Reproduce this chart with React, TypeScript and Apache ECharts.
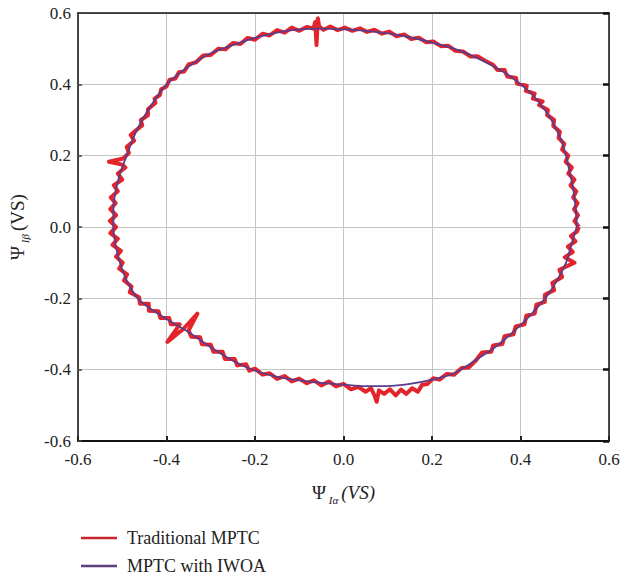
import React, { useEffect, useRef } from "react";
import * as echarts from "echarts";

const axisTicks = [-0.6, -0.4, -0.2, 0.0, 0.2, 0.4, 0.6];
const seriesNames = ["Traditional MPTC", "MPTC with IWOA"];

// MPTC with IWOA flux trajectory (purple)
const iwoaPoints: number[][] = [
  [0.527, 0.0], [0.525, 0.05], [0.52, 0.1], [0.512, 0.15], [0.503, 0.2], [0.49, 0.25],
  [0.47, 0.3], [0.445, 0.345], [0.415, 0.385], [0.38, 0.42], [0.34, 0.45], [0.3, 0.475],
  [0.25, 0.5], [0.2, 0.517], [0.15, 0.532], [0.1, 0.543], [0.05, 0.55], [0.0, 0.554],
  [-0.05, 0.556], [-0.1, 0.554], [-0.15, 0.545], [-0.2, 0.53], [-0.25, 0.51], [-0.3, 0.487],
  [-0.35, 0.45], [-0.4, 0.4], [-0.43, 0.35], [-0.455, 0.3], [-0.475, 0.25], [-0.49, 0.2],
  [-0.505, 0.15], [-0.515, 0.1], [-0.52, 0.05], [-0.52, 0.0], [-0.515, -0.05], [-0.505, -0.1],
  [-0.49, -0.15], [-0.465, -0.2], [-0.435, -0.23], [-0.4, -0.258], [-0.35, -0.295], [-0.3, -0.337],
  [-0.25, -0.375], [-0.2, -0.403], [-0.15, -0.42], [-0.1, -0.43], [-0.05, -0.437], [0.0, -0.442],
  [0.05, -0.446], [0.1, -0.446], [0.15, -0.44], [0.2, -0.428], [0.25, -0.41], [0.3, -0.372],
  [0.35, -0.33], [0.4, -0.275], [0.435, -0.23], [0.465, -0.185], [0.487, -0.14], [0.503, -0.1],
  [0.515, -0.05], [0.527, 0.0],
];

// Traditional MPTC flux trajectory (red, noisy)
const traditionalPoints: number[][] = [
  // right side
  [0.532, 0.0], [0.522, 0.017], [0.53, 0.033], [0.521, 0.05], [0.529, 0.067], [0.519, 0.083],
  [0.526, 0.1], [0.513, 0.117], [0.522, 0.133], [0.508, 0.15], [0.516, 0.167], [0.502, 0.183],
  [0.508, 0.2], [0.494, 0.217], [0.499, 0.233], [0.486, 0.25], [0.489, 0.267], [0.474, 0.283],
  [0.476, 0.3],
  // upper right
  [0.46, 0.314], [0.462, 0.328], [0.442, 0.342], [0.45, 0.352], [0.428, 0.36], [0.432, 0.374],
  [0.412, 0.382], [0.414, 0.396], [0.392, 0.402], [0.39, 0.418], [0.37, 0.422], [0.364, 0.44],
  [0.348, 0.44], [0.338, 0.455],
  // top
  [0.32, 0.466], [0.303, 0.479], [0.287, 0.478], [0.27, 0.492], [0.253, 0.494], [0.237, 0.508],
  [0.22, 0.507], [0.203, 0.52], [0.187, 0.518], [0.17, 0.531], [0.153, 0.527], [0.137, 0.54],
  [0.12, 0.535], [0.103, 0.548], [0.087, 0.542], [0.07, 0.553], [0.053, 0.547], [0.037, 0.557],
  [0.02, 0.55], [0.003, 0.559], [-0.013, 0.552], [-0.03, 0.562], [-0.045, 0.553], [-0.055, 0.562],
  [-0.058, 0.585], [-0.061, 0.51], [-0.064, 0.575], [-0.068, 0.556], [-0.083, 0.561], [-0.1, 0.55],
  [-0.117, 0.559], [-0.133, 0.545], [-0.15, 0.552], [-0.167, 0.537], [-0.183, 0.542], [-0.2, 0.525],
  [-0.217, 0.53], [-0.233, 0.513], [-0.25, 0.516], [-0.267, 0.498], [-0.283, 0.5], [-0.3, 0.482],
  [-0.317, 0.481], [-0.333, 0.462],
  // upper left
  [-0.35, 0.456], [-0.36, 0.436], [-0.372, 0.434], [-0.38, 0.416], [-0.393, 0.413], [-0.4, 0.394],
  [-0.412, 0.386], [-0.415, 0.37], [-0.427, 0.36], [-0.425, 0.348], [-0.442, 0.33], [-0.442, 0.313],
  [-0.458, 0.3], [-0.455, 0.285], [-0.47, 0.27],
  // left side
  [-0.481, 0.258], [-0.473, 0.242], [-0.49, 0.225], [-0.485, 0.208], [-0.498, 0.192],
  [-0.53, 0.183], [-0.5, 0.175], [-0.493, 0.167], [-0.51, 0.15], [-0.5, 0.133], [-0.519, 0.117],
  [-0.51, 0.1], [-0.526, 0.083], [-0.515, 0.067], [-0.527, 0.05], [-0.514, 0.033], [-0.528, 0.017],
  [-0.514, 0.0], [-0.527, -0.017], [-0.51, -0.033], [-0.522, -0.05], [-0.503, -0.067], [-0.514, -0.083],
  [-0.499, -0.1], [-0.507, -0.117], [-0.489, -0.133], [-0.496, -0.15], [-0.479, -0.167], [-0.483, -0.183],
  [-0.462, -0.197],
  // lower left
  [-0.46, -0.215], [-0.44, -0.215], [-0.44, -0.235], [-0.418, -0.236], [-0.414, -0.255], [-0.394, -0.255],
  [-0.39, -0.273], [-0.37, -0.273], [-0.398, -0.322], [-0.362, -0.286], [-0.33, -0.243], [-0.35, -0.29],
  [-0.344, -0.308], [-0.324, -0.309], [-0.32, -0.329], [-0.3, -0.33], [-0.294, -0.35], [-0.273, -0.35],
  [-0.268, -0.37], [-0.246, -0.37], [-0.24, -0.388], [-0.22, -0.385], [-0.213, -0.403],
  // bottom
  [-0.2, -0.397], [-0.183, -0.414], [-0.167, -0.41], [-0.15, -0.426], [-0.133, -0.418], [-0.117, -0.433],
  [-0.1, -0.425], [-0.083, -0.438], [-0.067, -0.43], [-0.05, -0.444], [-0.033, -0.433], [-0.017, -0.447],
  [0.0, -0.44], [0.017, -0.455], [0.033, -0.448], [0.05, -0.462], [0.062, -0.452], [0.07, -0.472],
  [0.075, -0.49], [0.08, -0.458], [0.092, -0.468], [0.105, -0.455], [0.118, -0.472], [0.13, -0.456],
  [0.142, -0.468], [0.155, -0.452], [0.168, -0.462], [0.178, -0.442], [0.19, -0.44], [0.203, -0.424],
  [0.217, -0.428], [0.233, -0.412], [0.25, -0.414], [0.267, -0.395], [0.283, -0.394], [0.3, -0.373],
  // lower right
  [0.313, -0.352], [0.334, -0.35], [0.338, -0.332], [0.359, -0.328], [0.364, -0.306], [0.384, -0.301],
  [0.389, -0.279], [0.409, -0.273], [0.413, -0.249], [0.432, -0.243], [0.436, -0.218], [0.455, -0.21],
  [0.455, -0.19], [0.476, -0.177], [0.472, -0.157], [0.494, -0.14], [0.488, -0.12], [0.522, -0.1],
  [0.5, -0.085], [0.518, -0.07], [0.507, -0.055], [0.524, -0.04], [0.514, -0.025], [0.528, -0.012],
  [0.532, 0.0],
];

const FONT = "'Liberation Serif', 'DejaVu Serif', serif";
const RED = "#e3242b";
const PURPLE = "#5b3d8c";

export default function App() {
  const ref = useRef<HTMLDivElement>(null);
  useEffect(() => {
    if (!ref.current) return;
    const chart = echarts.init(ref.current, undefined, { renderer: "svg" });
    const fmt = (v: number) => v.toFixed(1);
    const minV = axisTicks[0];
    const maxV = axisTicks[axisTicks.length - 1];
    const interval = 0.2;
    const labelStyle = { fontFamily: FONT, fontSize: 17, color: "#222" };
    chart.setOption({
      animation: false,
      backgroundColor: "#fff",
      grid: { left: 77, right: 14, top: 13, bottom: 139, containLabel: false },
      legend: {
        orient: "vertical",
        left: 76,
        top: 524,
        height: 56,
        icon: "rect",
        itemWidth: 36,
        itemHeight: 2.5,
        itemGap: 10,
        textStyle: { fontFamily: FONT, fontSize: 18, color: "#222", padding: [0, 0, 0, 5] },
        data: [
          { name: seriesNames[0], itemStyle: { color: "#c8262c" } },
          { name: seriesNames[1], itemStyle: { color: "#5c3f7c" } },
        ],
      },
      xAxis: [
        {
          type: "value",
          min: minV,
          max: maxV,
          interval,
          position: "bottom",
          axisLine: { show: true, onZero: false, lineStyle: { color: "#111", width: 2 } },
          axisTick: { show: true, inside: true, length: 5, lineStyle: { color: "#222", width: 2 } },
          axisLabel: { ...labelStyle, margin: 10, formatter: fmt },
          splitLine: { show: true, lineStyle: { color: "#c4c4c4", width: 1 } },
          name: "{psi|Ψ}{sub| Iα} {it|(VS)}",
          nameLocation: "middle",
          nameGap: 39,
          nameTextStyle: {
            fontFamily: FONT,
            color: "#222",
            rich: {
              psi: { fontFamily: FONT, fontSize: 19, color: "#222" },
              sub: { fontFamily: FONT, fontSize: 11, fontStyle: "italic", color: "#222", verticalAlign: "bottom", padding: [14, 0, 0, 0] },
              it: { fontFamily: FONT, fontSize: 19, fontStyle: "italic", color: "#222" },
            },
          },
        },
        {
          type: "value",
          min: minV,
          max: maxV,
          interval,
          position: "top",
          axisLine: { show: true, onZero: false, lineStyle: { color: "#111", width: 1.5 } },
          axisTick: { show: false },
          axisLabel: { show: false },
          splitLine: { show: false },
        },
      ],
      yAxis: [
        {
          type: "value",
          min: minV,
          max: maxV,
          interval,
          position: "left",
          axisLine: { show: true, onZero: false, lineStyle: { color: "#111", width: 1.5 } },
          axisTick: { show: true, inside: true, length: 4, lineStyle: { color: "#444", width: 1.5 } },
          axisLabel: { ...labelStyle, margin: 7, formatter: fmt },
          splitLine: { show: true, lineStyle: { color: "#c4c4c4", width: 1 } },
          name: "{psi|Ψ}{sub| Iβ} {up|(VS)}",
          nameLocation: "middle",
          nameGap: 48,
          nameRotate: 90,
          nameTextStyle: {
            fontFamily: FONT,
            color: "#222",
            rich: {
              psi: { fontFamily: FONT, fontSize: 19, color: "#222" },
              sub: { fontFamily: FONT, fontSize: 11, fontStyle: "italic", color: "#222", verticalAlign: "bottom", padding: [14, 0, 0, 0] },
              up: { fontFamily: FONT, fontSize: 19, color: "#222" },
            },
          },
        },
        {
          type: "value",
          min: minV,
          max: maxV,
          interval,
          position: "right",
          axisLine: { show: true, onZero: false, lineStyle: { color: "#111", width: 1.5 } },
          axisTick: { show: true, inside: true, length: 6, lineStyle: { color: "#111", width: 2.5 } },
          axisLabel: { show: false },
          splitLine: { show: false },
        },
      ],
      series: [
        {
          name: seriesNames[0],
          type: "line",
          xAxisIndex: 0,
          yAxisIndex: 0,
          data: traditionalPoints,
          symbol: "none",
          smooth: false,
          lineStyle: { color: RED, width: 4, join: "round" },
          itemStyle: { color: "#c8262c" },
          z: 2,
        },
        {
          name: seriesNames[1],
          type: "line",
          xAxisIndex: 0,
          yAxisIndex: 0,
          data: iwoaPoints,
          symbol: "none",
          smooth: 0.3,
          lineStyle: { color: PURPLE, width: 1.8 },
          itemStyle: { color: "#5c3f7c" },
          z: 3,
        },
      ],
    });
    return () => chart.dispose();
  }, []);
  return <div ref={ref} style={{ width: 623, height: 580, position: "absolute", left: 0, top: 0 }} />;
}
